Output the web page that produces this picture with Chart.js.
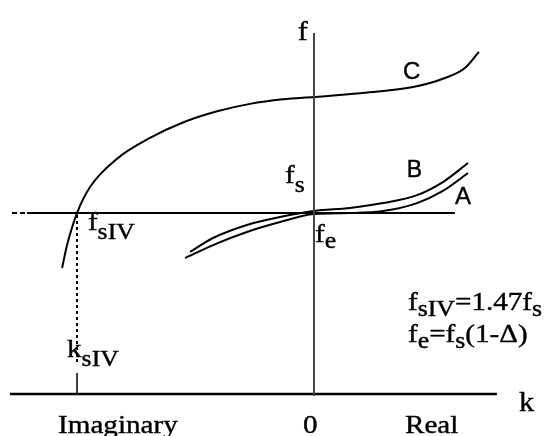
<!DOCTYPE html>
<html>
<head>
<meta charset="utf-8">
<script src="https://cdn.jsdelivr.net/npm/chart.js@4.4.1/dist/chart.umd.min.js"></script>
<style>
  html, body { margin: 0; padding: 0; background: #fff; }
  #wrap { width: 550px; height: 436px; }
</style>
</head>
<body>
<div id="wrap"><canvas id="c" width="550" height="436"></canvas></div>
<script>
// Wavenumber k is normalised so that k_sIV = -1 (negative = imaginary side),
// frequency f is normalised so that f_s = 1.

// Branch C (upper branch, continues into the imaginary-k region)
const branchC_k = [-1.063, -1.042, -1.0, -0.945, -0.831, -0.692, -0.553, -0.409, -0.270, -0.131, 0, 0.194, 0.418, 0.553, 0.637, 0.696];
const branchC_f = [0.696, 0.823, 1.0, 1.144, 1.300, 1.415, 1.500, 1.562, 1.603, 1.628, 1.641, 1.662, 1.696, 1.746, 1.801, 1.890];

// Branch B (upper of the pair through f_s)
const branchB_k = [-0.523, -0.426, -0.283, -0.143, 0, 0.152, 0.291, 0.435, 0.544, 0.650];
const branchB_f = [0.785, 0.862, 0.934, 0.978, 1.011, 1.028, 1.055, 1.099, 1.171, 1.276];

// Branch A (lower of the pair, through f_e)
const branchA_k = [-0.544, -0.426, -0.283, -0.143, 0, 0.152, 0.291, 0.435, 0.544, 0.650];
const branchA_f = [0.751, 0.823, 0.895, 0.950, 0.994, 1.000, 1.011, 1.055, 1.122, 1.221];

// Reference levels
const fsLevel = 1;          // f = f_s
const ksIV = -1;            // k = k_sIV
const kAxisEnds = [-1.283, 0.772];
const fAxisEnds = [-0.011, 1.994];
const fsLineDashed = [-1.274, -1.219];
const fsLineSolid = [-1.211, 0.595];
const ksIVDotted = [0.989, 0.170];
const ksIVSolid = [0.116, 0];

// Text placed in data coordinates: [k, f] = left end of baseline
const labels = [
  { k: -0.068, f: 1.956, font: 'Liberation Serif', size: 27, runs: [['f']] },
  { k: 0.376, f: 1.740, font: 'Liberation Sans', size: 24, runs: [['C']] },
  { k: 0.392, f: 1.199, font: 'Liberation Sans', size: 23, runs: [['B']] },
  { k: 0.595, f: 1.050, font: 'Liberation Sans', size: 24, runs: [['A']] },
  { k: -0.122, f: 1.166, font: 'Liberation Serif', size: 26, drop: 9, runs: [['f'], ['s', 'sub']] },
  { k: 0.004, f: 0.840, font: 'Liberation Serif', size: 26, drop: 6, runs: [['f'], ['e', 'sub']] },
  { k: -0.954, f: 0.906, font: 'Liberation Serif', size: 26, drop: 9, runs: [['f'], ['sIV', 'sub']] },
  { k: -1.042, f: 0.204, font: 'Liberation Serif', size: 26, drop: 9, runs: [['k'], ['sIV', 'sub']] },
  { k: 0.397, f: 0.464, font: 'Liberation Serif', size: 26, drop: 6, runs: [['f'], ['sIV', 'sub'], ['=1.47f'], ['s', 'sub']] },
  { k: 0.397, f: 0.287, font: 'Liberation Serif', size: 26, drop: 6, runs: [['f'], ['e', 'sub'], ['=f'], ['s', 'sub'], ['(1-\u0394)']] },
  { k: -1.080, f: -0.215, font: 'Liberation Serif', size: 26, runs: [['Imaginary']] },
  { k: -0.046, f: -0.215, font: 'Liberation Serif', size: 26, runs: [['0']] },
  { k: 0.384, f: -0.215, font: 'Liberation Serif', size: 26, runs: [['Real']] },
  { k: 0.865, f: -0.094, font: 'Liberation Serif', size: 27, runs: [['k']] }
];

const pts = (xs, ys) => xs.map((x, i) => ({ x, y: ys[i] }));
const seg = (x0, x1, y) => [{ x: x0, y }, { x: x1, y }];
const vseg = (x, y0, y1) => [{ x, y: y0 }, { x, y: y1 }];

function line(data, opts) {
  return Object.assign({
    data, showLine: true, pointRadius: 0, borderColor: '#000',
    borderWidth: 2, fill: false, tension: 0
  }, opts);
}

// Serif text is set slightly wide, as in typeset figure captions
const SERIF_STRETCH = 1.12;

const textPlugin = {
  id: 'richLabels',
  afterDatasetsDraw(chart) {
    const { ctx, scales } = chart;
    ctx.save();
    ctx.fillStyle = '#000';
    ctx.strokeStyle = '#000';
    ctx.lineWidth = 0.4;
    ctx.textBaseline = 'alphabetic';
    ctx.textAlign = 'left';
    labels.forEach(l => {
      let x = scales.x.getPixelForValue(l.k);
      const y = scales.y.getPixelForValue(l.f);
      const sx = l.font.indexOf('Serif') >= 0 ? SERIF_STRETCH : 1;
      l.runs.forEach(([t, kind]) => {
        const sub = kind === 'sub';
        const sz = sub ? Math.round(l.size * 0.88) : l.size;
        ctx.font = sz + 'px "' + l.font + '"';
        ctx.save();
        ctx.translate(x, y + (sub ? (l.drop || 6) : 0));
        ctx.scale(sx, 1);
        ctx.fillText(t, 0, 0);
        ctx.strokeText(t, 0, 0);
        ctx.restore();
        x += ctx.measureText(t).width * sx;
      });
    });
    ctx.restore();
  }
};

new Chart(document.getElementById('c'), {
  type: 'scatter',
  data: {
    datasets: [
      line(vseg(0, fAxisEnds[0], fAxisEnds[1]), { borderColor: '#444', borderWidth: 2 }),
      line(seg(kAxisEnds[0], kAxisEnds[1], 0), { borderWidth: 2.5 }),
      line(seg(fsLineDashed[0], fsLineDashed[1], fsLevel), { borderDash: [5, 3] }),
      line(seg(fsLineSolid[0], fsLineSolid[1], fsLevel)),
      line(vseg(ksIV, ksIVDotted[0], ksIVDotted[1]), { borderDash: [3, 3], borderWidth: 2 }),
      line(vseg(ksIV, ksIVSolid[0], ksIVSolid[1]), { borderWidth: 1.5 }),
      line(pts(branchC_k, branchC_f), { cubicInterpolationMode: 'monotone' }),
      line(pts(branchB_k, branchB_f), { cubicInterpolationMode: 'monotone' }),
      line(pts(branchA_k, branchA_f), { cubicInterpolationMode: 'monotone' })
    ]
  },
  options: {
    responsive: false,
    animation: false,
    devicePixelRatio: 1,
    layout: { padding: 0 },
    plugins: { legend: { display: false }, tooltip: { enabled: false } },
    scales: {
      x: { type: 'linear', min: -1.325, max: 0.996, display: false },
      y: { type: 'linear', min: -0.232, max: 2.177, display: false }
    }
  },
  plugins: [textPlugin]
});
</script>
</body>
</html>
